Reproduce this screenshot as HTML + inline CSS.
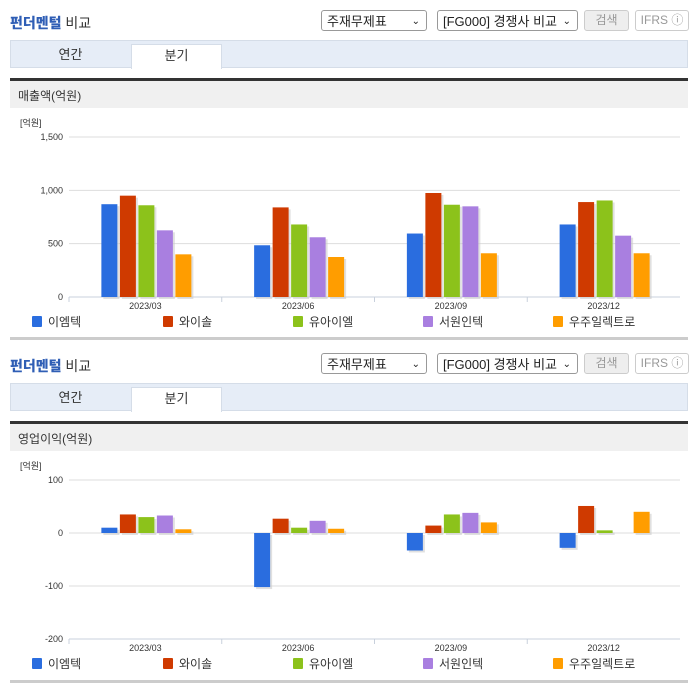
<!DOCTYPE html>
<html><head><meta charset="utf-8">
<style>
body{margin:0;width:696px;height:684px;background:#fff;font-family:"Liberation Sans","Noto Sans CJK KR",sans-serif;position:relative;overflow:hidden}
.abs{position:absolute}
.title{font-size:14px;font-weight:bold;color:#333;left:10px}
.title b{color:#2f5eb5}
.title i{font-style:normal;font-weight:normal}
.sel{border:1px solid #999;border-radius:3px;height:21px;font-size:13px;line-height:21px;padding-left:5px;box-sizing:border-box;color:#222;background:#fff}
.sel span{position:absolute;right:6px;top:0;font-size:10px}
.btn{border:1px solid #ccc;border-radius:3px;height:21px;font-size:12px;line-height:19px;text-align:center;box-sizing:border-box;color:#999}
.tabs{left:10px;width:678px;height:28px;background:#e6edf7;border:1px solid #d5dde8;box-sizing:border-box}
.tab{font-size:13px;color:#333;text-align:center;line-height:24px}
.band{left:10px;width:678px;height:30px;background:#f0f0f0;border-top:3px solid #333;font-size:12px;color:#333;line-height:30px;padding-left:8px;box-sizing:border-box}
.bot{left:10px;width:678px;height:3px;background:#ccc}
</style></head><body>
<div id="root"></div>
<script>
const categories=["2023/03","2023/06","2023/09","2023/12"];
const seriesNames=["이엠텍","와이솔","유아이엘","서원인텍","우주일렉트로"];
const colors=["#2a6ddf","#cf3a00","#8cc21b","#a97fe0","#ff9d00"];
const salesBlue=[870,485,595,680];
const salesRed=[950,840,975,890];
const salesGreen=[860,680,865,905];
const salesPurple=[625,560,850,575];
const salesOrange=[400,375,410,410];
const opBlue=[10,-102,-33,-28];
const opRed=[35,27,14,51];
const opGreen=[30,10,35,5];
const opPurple=[33,23,38,0];
const opOrange=[7,8,20,40];
const salesTicks=[0,500,1000,1500];
const salesTickLabels=["0","500","1,000","1,500"];
const opTicks=[-200,-100,0,100];
const opTickLabels=["-200","-100","0","100"];

const root=document.getElementById('root');
function el(tag,cls,style,html){const e=document.createElement(tag);if(cls)e.className=cls;e.style.cssText=style;if(html!=null)e.innerHTML=html;return e;}
const NS="http://www.w3.org/2000/svg";
function s(tag,attrs){const e=document.createElementNS(NS,tag);for(const k in attrs)e.setAttribute(k,attrs[k]);return e;}

function section(off,bandText,series,ticks,tickLabels,ymin,ymax,plotTop,plotBot,name){
  const t=el('div','abs title','top:'+(13+off)+'px','<b>펀더멘털</b> <i>비교</i>');
  
  
  root.appendChild(t);
  const s1=el('div','abs sel','left:321px;top:'+(10+off)+'px;width:106px','주재무제표<span>&#8964;</span>');
  
  
  root.appendChild(s1);
  const s2=el('div','abs sel','left:437px;top:'+(10+off)+'px;width:141px','[FG000] 경쟁사 비교<span>&#8964;</span>');
  
  
  root.appendChild(s2);
  const b=el('div','abs btn','left:584px;top:'+(10+off)+'px;width:45px;background:#eee','검색');
  
  
  root.appendChild(b);
  const f=el('div','abs btn','left:635px;top:'+(10+off)+'px;width:54px','IFRS ⓘ');
  
  
  root.appendChild(f);
  const tb=el('div','abs tabs','top:'+(40+off)+'px');
  
  
  root.appendChild(tb);
  const ta=el('div','abs tab','left:10px;top:'+(43+off)+'px;width:121px','연간');
  
  
  root.appendChild(ta);
  const tq=el('div','abs tab','left:131px;top:'+(44+off)+'px;width:91px;height:25px;line-height:22px;background:#fff;border:1px solid #d5dde8;border-bottom:none;box-sizing:border-box','분기');
  
  
  root.appendChild(tq);
  const bd=el('div','abs band','top:'+(78+off)+'px',bandText);
  
  
  root.appendChild(bd);
  const bt=el('div','abs bot','top:'+(337+off)+'px');
  
  
  root.appendChild(bt);

  const svg=s('svg',{width:696,height:684,style:'position:absolute;left:0;top:0'});
  
  
  root.appendChild(svg);
  const x0=69,x1=680;
  const y=v=>plotBot-(v-ymin)/(ymax-ymin)*(plotBot-plotTop);
  const unit=s('text',{x:20,y:plotTop-11,'font-size':9,fill:'#333'});unit.textContent='[억원]';
  
  
  svg.appendChild(unit);
  ticks.forEach((v,i)=>{
    const g=s('line',{x1:x0,x2:x1,y1:y(v),y2:y(v),stroke:'#ddd','stroke-width':1});
    
    
    svg.appendChild(g);
    const tx=s('text',{x:63,y:y(v)+3,'font-size':9,fill:'#333','text-anchor':'end'});tx.textContent=tickLabels[i];
    
    
    svg.appendChild(tx);
  });
  const ax=s('line',{x1:x0,x2:x1,y1:plotBot,y2:plotBot,stroke:'#c8d0dc'});
  
  
  svg.appendChild(ax);
  const cw=(x1-x0)/categories.length;
  categories.forEach((c,ci)=>{
    const tk=s('line',{x1:x0+cw*ci,x2:x0+cw*ci,y1:plotBot,y2:plotBot+5,stroke:'#c8d0dc'});
    
    
    svg.appendChild(tk);
    const cx=x0+cw*(ci+0.5);
    const tx=s('text',{x:cx,y:plotBot+12,'font-size':9,fill:'#333','text-anchor':'middle'});tx.textContent=c;
    
    
    svg.appendChild(tx);
    series.forEach((arr,si)=>{
      const v=arr[ci];
      if(v===0)return;
      const bx=cx-44+si*18.5;
      const ya=y(Math.max(v,0)),yb=y(Math.min(v,0));
      const sh=s('rect',{x:bx+2,y:ya+2,width:16,height:Math.max(yb-ya,1),fill:'#ccc',opacity:0.6});
      
      
      svg.appendChild(sh);
      const r=s('rect',{x:bx,y:ya,width:16,height:Math.max(yb-ya,1),fill:colors[si]});
      
      
      svg.appendChild(r);
    });
  });
  const lx=[32,163,293,423,553];
  seriesNames.forEach((n,i)=>{
    const r=s('rect',{x:lx[i],y:plotBot+19,width:10,height:11,rx:1,fill:colors[i]});
    
    
    svg.appendChild(r);
    const tx=s('text',{x:lx[i]+16,y:plotBot+29,'font-size':12,fill:'#333'});tx.textContent=n;
    
    
    svg.appendChild(tx);
  });
}
section(0,'매출액(억원)',[salesBlue,salesRed,salesGreen,salesPurple,salesOrange],salesTicks,salesTickLabels,0,1500,137,297,'sales-chart');
section(343,'영업이익(억원)',[opBlue,opRed,opGreen,opPurple,opOrange],opTicks,opTickLabels,-200,100,480,639,'operating-profit-chart');
</script>
</body></html>
